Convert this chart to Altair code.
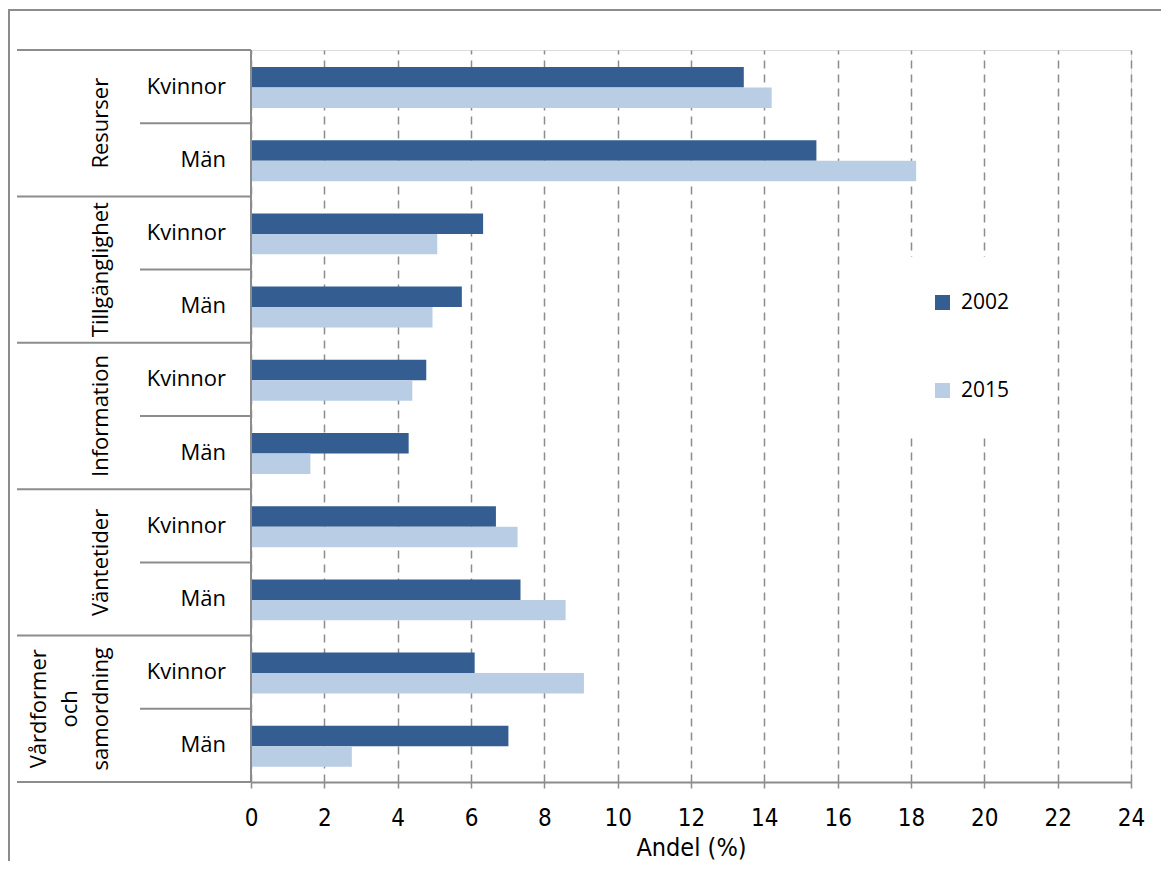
import altair as alt
import pandas as pd

groups = ["Resurser", "Tillgänglighet", "Information", "Väntetider", "Vårdformer och samordning"]
group_lines = [["Resurser"], ["Tillgänglighet"], ["Information"], ["Väntetider"], ["Vårdformer", "och", "samordning"]]
subgroups = ["Kvinnor", "Män"]
years = ["2002", "2015"]
v2002 = [13.44, 15.42, 6.33, 5.75, 4.78, 4.30, 6.68, 7.35, 6.10, 7.02]
v2015 = [14.20, 18.14, 5.08, 4.95, 4.40, 1.62, 7.27, 8.58, 9.08, 2.75]
x_ticks = list(range(0, 25, 2))

DARK = "#345E91"
LIGHT = "#B9CDE5"
GREY = "#8c8c8c"
FONT = "Open Sans"
NARROW = "DejaVu Sans Condensed, Liberation Sans, sans-serif"

rows = []
labels = []
for gi, g in enumerate(groups):
    for si, s in enumerate(subgroups):
        r = gi * 2 + si
        labels.append({"row": r, "label": s})
        rows.append({"row": r, "group": g, "sub": s, "year": "2002", "value": v2002[r]})
        rows.append({"row": r, "group": g, "sub": s, "year": "2015", "value": v2015[r]})
df = pd.DataFrame(rows)
lab_df = pd.DataFrame(labels)
grp_df = pd.DataFrame({"gi": list(range(len(groups))), "lines": group_lines})
gb_df = pd.DataFrame({"b": [0, 2, 4, 6, 8, 10]})
sb_df = pd.DataFrame({"b": [1, 3, 5, 7, 9]})

yscale = alt.Scale(domain=[0, 10], reverse=True, nice=False, zero=False)

bars = alt.Chart(df).transform_calculate(
    y0="datum.row + 0.232 + (datum.year == '2015' ? 0.28 : 0)",
    y1="datum.row + 0.232 + (datum.year == '2015' ? 0.56 : 0.28)",
).mark_rect().encode(
    x=alt.X("value:Q", scale=alt.Scale(domain=[0, 24], nice=False),
            axis=alt.Axis(values=x_ticks, grid=True, gridDash=[8, 6], gridColor=GREY,
                          gridWidth=1.5, domainColor=GREY, domainWidth=2, tickColor=GREY,
                          tickWidth=1.5, tickSize=6, labelFont=NARROW, labelFontSize=24,
                          labelColor="black", labelPadding=18, labelFlush=False,
                          title="Andel (%)",
                          titleFont=NARROW, titleFontSize=25, titleFontWeight="normal",
                          titleColor="black", titlePadding=5)),
    x2=alt.datum(0),
    y=alt.Y("y0:Q", scale=yscale, axis=None),
    y2="y1:Q",
    color=alt.Color("year:N", scale=alt.Scale(domain=years, range=[DARK, LIGHT]),
                    legend=alt.Legend(title=None, orient="none", legendX=646, legendY=207,
                                      padding=35, rowPadding=66, symbolType="square",
                                      symbolSize=225, symbolStrokeWidth=0, labelFont=FONT,
                                      labelFontSize=21, labelColor="black", labelOffset=8,
                                      fillColor="white", strokeColor="white")),
)

sub_text = alt.Chart(lab_df).transform_calculate(yc="datum.row + 0.5").mark_text(
    align="right", baseline="middle", font=FONT, fontSize=22, color="black"
).encode(x=alt.value(-25), y=alt.Y("yc:Q", scale=yscale, axis=None), text="label:N")

grp_text = alt.Chart(grp_df).transform_calculate(
    yc="datum.gi * 2 + 1",
    xp="-143 - (datum.lines.length - 1) * 31",
).mark_text(
    align="center", baseline="alphabetic", angle=270, font=FONT, fontSize=22,
    color="black", lineHeight=31
).encode(x=alt.X("xp:Q", scale=None), y=alt.Y("yc:Q", scale=yscale, axis=None), text="lines")

grp_rules = alt.Chart(gb_df).mark_rule(color=GREY, strokeWidth=2).encode(
    x=alt.value(-234), x2=alt.value(0), y=alt.Y("b:Q", scale=yscale, axis=None))
sub_rules = alt.Chart(sb_df).mark_rule(color=GREY, strokeWidth=2).encode(
    x=alt.value(-111), x2=alt.value(0), y=alt.Y("b:Q", scale=yscale, axis=None))
yline = alt.Chart(gb_df).mark_rule(color=GREY, strokeWidth=2).encode(
    x=alt.value(0), y=alt.value(0), y2=alt.value(732))
border = alt.Chart(gb_df).mark_rect(fill=None, stroke=GREY, strokeWidth=2).encode(
    x=alt.value(-242), x2=alt.value(1100), y=alt.value(-40), y2=alt.value(1000))

chart = alt.layer(border, bars, grp_rules, sub_rules, yline, sub_text, grp_text).properties(
    width=880, height=732,
    padding={"left": 243, "top": 42, "right": 30, "bottom": 79},
    autosize=alt.AutoSizeParams(type="none"),
).configure_view(stroke=None).configure(background="white")

chart.save("out.html", embed_options={"renderer": "svg", "actions": False})
